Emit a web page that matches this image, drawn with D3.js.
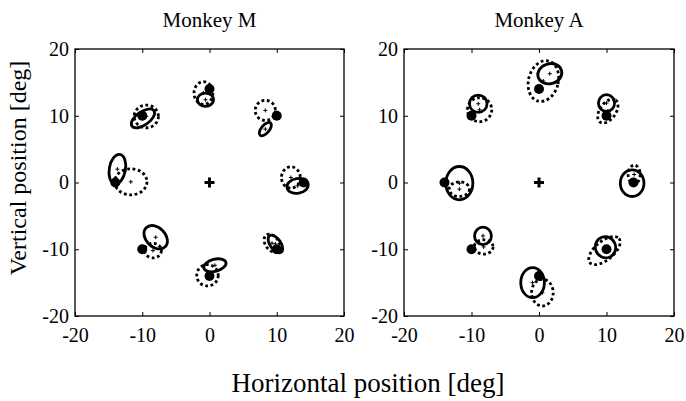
<!DOCTYPE html>
<html>
<head>
<meta charset="utf-8">
<script src="https://cdn.jsdelivr.net/npm/d3@7"></script>
<style>
  body { margin: 0; background: white; }
  svg text { font-family: "Liberation Serif", "Times New Roman", serif; fill: black; }
</style>
</head>
<body>
<svg id="svg"></svg>
<script>
// target positions (deg)
const targetX = [0, 10, 14, 10, 0, -10, -14, -10];
const targetY = [14, 10, 0, -10, -14, -10, 0, 10];

// ellipses: [cx, cy, rx, ry, angle(deg, ccw)]
const monkeyMSolid = [
    [-0.6, 12.4, 1.2, 1.0, 0],
    [8.3, 8.0, 1.2, 0.6, 50],
    [13.1, -0.5, 1.6, 1.1, 10],
    [9.8, -9.2, 1.5, 0.8, -55],
    [0.8, -12.4, 1.7, 0.9, 15],
    [-8.0, -8.2, 2.0, 1.45, -45],
    [-13.7, 2.0, 1.2, 2.25, -10],
    [-9.9, 9.6, 2.0, 1.0, 35]
];
const monkeyMDotted = [
    [-0.9, 13.4, 1.4, 1.7, 0],
    [8.3, 10.8, 1.5, 1.5, 0],
    [12.1, 0.75, 1.4, 1.6, 0],
    [9.3, -9.1, 1.5, 1.0, -55],
    [-0.3, -13.9, 1.6, 1.6, 0],
    [-8.4, -10.2, 1.25, 1.1, 0],
    [-11.7, 0.1, 2.4, 1.95, 0],
    [-9.4, 9.9, 1.8, 1.7, 0]
];
const monkeyASolid = [
    [1.6, 16.3, 1.8, 1.5, 15],
    [10.0, 11.9, 1.2, 1.25, 0],
    [13.8, -0.1, 1.75, 2.0, 0],
    [9.85, -9.7, 1.5, 1.6, 20],
    [-0.95, -15.0, 1.75, 2.25, 0],
    [-8.3, -8.0, 1.25, 1.3, 0],
    [-11.8, -0.1, 2.0, 2.5, 0],
    [-9.0, 11.8, 1.3, 1.3, 0]
];
const monkeyADotted = [
    [0.65, 15.2, 2.2, 3.1, -15],
    [10.2, 10.7, 2.0, 1.2, 55],
    [14.1, 1.2, 0.9, 1.4, 0],
    [9.7, -10.2, 2.8, 1.4, 40],
    [0.5, -16.5, 1.6, 2.0, 0],
    [-8.2, -9.65, 1.4, 1.07, 0],
    [-11.8, -1.0, 1.5, 1.1, 0],
    [-8.8, 10.9, 1.8, 1.8, 0]
];

const tickValues = [-20, -10, 0, 10, 20];

const width = 686;
const height = 401;

let svg = d3.select("#svg").attr("width", width).attr("height", height);

function drawEllipses(g, x, y, data, dashed) {
    g.selectAll(dashed ? ".dotted" : ".solid")
        .data(data)
        .join("ellipse")
        .attr("class", dashed ? "dotted" : "solid")
        .attr("cx", d => x(d[0]))
        .attr("cy", d => y(d[1]))
        .attr("rx", d => x(d[2]) - x(0))
        .attr("ry", d => y(0) - y(d[3]))
        .attr("transform", d => `rotate(${-d[4]},${x(d[0])},${y(d[1])})`)
        .attr("fill", "none")
        .attr("stroke", "black")
        .attr("stroke-width", 2.8)
        .attr("stroke-dasharray", dashed ? "2.8,2.6" : null);

    // small centre marks
    data.forEach(d => {
        const px = x(d[0]), py = y(d[1]);
        g.append("path")
            .attr("d", `M${px - 2},${py}H${px + 2}M${px},${py - 2}V${py + 2}`)
            .attr("stroke", "black")
            .attr("stroke-width", 1);
    });
}

function drawPanel(left, right, title, solid, dotted) {
    const top = 49, bottom = 316;
    const x = d3.scaleLinear().domain([-20, 20]).range([left, right]);
    const y = d3.scaleLinear().domain([-20, 20]).range([bottom, top]);

    const g = svg.append("g");

    // ticks, pointing inward
    g.append("g").attr("transform", `translate(0,${bottom})`)
        .call(d3.axisBottom(x).tickValues(tickValues).tickSize(-4).tickPadding(12).tickFormat(d => String(d)));
    g.append("g").attr("transform", `translate(${left},0)`)
        .call(d3.axisLeft(y).tickValues(tickValues).tickSize(-4).tickPadding(6).tickFormat(d => String(d)));
    g.append("g").attr("transform", `translate(0,${top})`)
        .call(d3.axisTop(x).tickValues(tickValues).tickSize(-4).tickFormat(""));
    g.append("g").attr("transform", `translate(${right},0)`)
        .call(d3.axisRight(y).tickValues(tickValues).tickSize(-4).tickFormat(""));

    g.selectAll(".domain").remove();
    g.selectAll(".tick text")
        .style("font-family", "'Liberation Serif', 'Times New Roman', serif")
        .style("font-size", "20px");

    g.append("rect")
        .attr("x", left).attr("y", top)
        .attr("width", right - left).attr("height", bottom - top)
        .attr("fill", "none").attr("stroke", "black").attr("stroke-width", 1.3);

    g.append("text")
        .attr("x", (left + right) / 2)
        .attr("y", 27)
        .attr("text-anchor", "middle")
        .style("font-size", "21px")
        .text(title);

    drawEllipses(g, x, y, dotted, true);
    drawEllipses(g, x, y, solid, false);

    // targets
    g.selectAll(".target")
        .data(targetX.map((tx, i) => [tx, targetY[i]]))
        .join("circle")
        .attr("class", "target")
        .attr("cx", d => x(d[0]))
        .attr("cy", d => y(d[1]))
        .attr("r", 5)
        .attr("fill", "black");

    // fixation cross
    const cx = x(0), cy = y(0);
    g.append("path")
        .attr("d", `M${cx - 5},${cy}H${cx + 5}M${cx},${cy - 5}V${cy + 5}`)
        .attr("stroke", "black")
        .attr("stroke-width", 3);
}

drawPanel(75, 344, "Monkey M", monkeyMSolid, monkeyMDotted);
drawPanel(404, 674, "Monkey A", monkeyASolid, monkeyADotted);

svg.append("text")
    .attr("x", 368)
    .attr("y", 392)
    .attr("text-anchor", "middle")
    .style("font-size", "27px")
    .text("Horizontal position [deg]");

svg.append("text")
    .attr("transform", "translate(26,168) rotate(-90)")
    .attr("text-anchor", "middle")
    .style("font-size", "24px")
    .text("Vertical position [deg]");
</script>
</body>
</html>
